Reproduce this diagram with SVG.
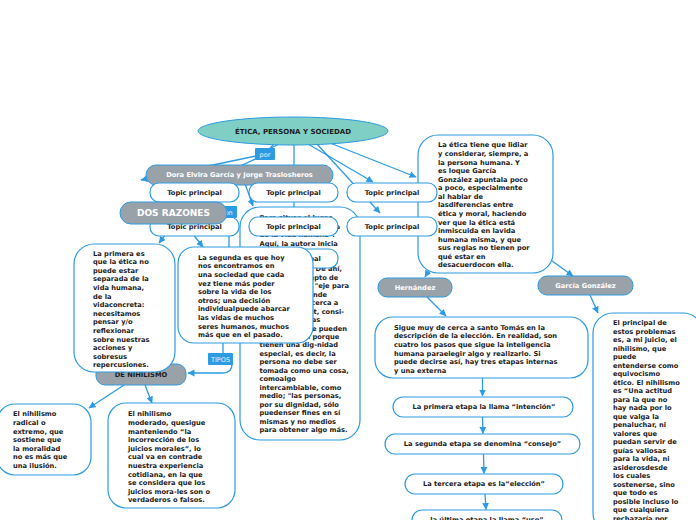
<svg xmlns="http://www.w3.org/2000/svg" width="696" height="520" viewBox="0 0 696 520">
<style>
.n{fill:#fff;stroke:#2d9be3;stroke-width:1.2}
.g{fill:#9aa2a9;stroke:#2d9be3;stroke-width:1}
.t{font-family:"DejaVu Sans",Verdana,sans-serif;font-weight:bold;font-size:6.7px;fill:#1c1c1c}
.c{text-anchor:middle}
.w{fill:#fff}
.lb{fill:#2d9be3}
.lt{font-family:"DejaVu Sans",Verdana,sans-serif;font-size:6.5px;fill:#e6f3ff;text-anchor:middle}
.k path{fill:none;stroke:#2d9be3;stroke-width:1.3}
.k .a{marker-end:url(#ar)}
</style>
<defs>
<marker id="ar" markerWidth="8" markerHeight="8" refX="6.5" refY="4" orient="auto" markerUnits="userSpaceOnUse"><path d="M0,0.6 L7,4 L0,7.4 Z" fill="#2d9be3"/></marker>
</defs>
<rect width="696" height="520" fill="#fff"/>
<g id="connectors" class="k">
<path d="M274,144 L264,155 L238,167"/>
<path class="a" d="M279,144 L256,156 L141,180"/>
<path d="M294,144 L294,212"/>
<path class="a" d="M308,144 L373,182"/>
<path class="a" d="M317,144 L380,213"/>
<path class="a" d="M330,143 L416,177"/>
<path class="a" d="M243,178 L253,206"/>
<path class="a" d="M166,234 L159,243"/>
<path class="a" d="M192,233 L203,247"/>
<path class="a" d="M229,216 L229,300 L223,310 L223,355 L232,362 Q233,373 222,373 L188,373"/>
<path class="a" d="M124,385 L89,408"/>
<path class="a" d="M145,385 L152,403"/>
<path class="a" d="M432,265 L425,277"/>
<path class="a" d="M548,258 L573,276"/>
<path class="a" d="M427,297 L446,316"/>
<path class="a" d="M590,295 L598,313"/>
<path class="a" d="M482.5,378 L482.5,396"/>
<path class="a" d="M482.5,417 L483,433.5"/>
<path class="a" d="M483.5,454 L484,473.5"/>
<path class="a" d="M485,494 L486,509.5"/>
</g>
<g id="central">
<ellipse cx="293" cy="131" rx="95" ry="14" fill="#80cfc5" stroke="#2d9be3" stroke-width="1"/>
<text class="t c" x="293" y="133.5" style="font-size:7px">ÉTICA, PERSONA Y SOCIEDAD</text>
</g>
<g id="label-por">
<rect class="lb" x="255" y="148" width="20" height="12" rx="1"/>
<text class="lt" x="265" y="156.5">por</text>
</g>
<g id="node-etica">
<rect class="n" x="418" y="135" width="135" height="138" rx="20"/>
<text class="t" x="438" y="147.4"><tspan x="438">La ética tiene que lidiar</tspan><tspan x="438" dy="8.57">y considerar, siempre, a</tspan><tspan x="438" dy="8.57">la persona humana. Y</tspan><tspan x="438" dy="8.57">es loque García</tspan><tspan x="438" dy="8.57">González apuntala poco</tspan><tspan x="438" dy="8.57">a poco, especialmente</tspan><tspan x="438" dy="8.57">al hablar de</tspan><tspan x="438" dy="8.57">lasdiferencias entre</tspan><tspan x="438" dy="8.57">ética y moral, haciendo</tspan><tspan x="438" dy="8.57">ver que la ética está</tspan><tspan x="438" dy="8.57">inmiscuida en lavida</tspan><tspan x="438" dy="8.57">humana misma, y que</tspan><tspan x="438" dy="8.57">sus reglas no tienen por</tspan><tspan x="438" dy="8.57">qué estar en</tspan><tspan x="438" dy="8.57">desacuerdocon ella.</tspan></text>
</g>
<g id="node-middle">
<rect class="n" x="240" y="207" width="120" height="233" rx="20"/>
<text class="t" x="259.5" y="220.3"><tspan x="259.5">Para situar el lugar</tspan><tspan x="259.5" dy="8.48">de la dimensión ética</tspan><tspan x="259.5" dy="8.48">de la vida humana".</tspan><tspan x="259.5" dy="8.48">Aquí, la autora inicia</tspan><tspan x="259.5" dy="8.48">su reflexión sobre</tspan><tspan x="259.5" dy="8.48">la persona humana</tspan><tspan x="259.5" dy="8.48">de la persona. De ahí,</tspan><tspan x="259.5" dy="8.48">surge el concepto de</tspan><tspan x="259.5" dy="8.48">persona como "eje para</tspan><tspan x="259.5" dy="8.48">la ética, de donde</tspan><tspan x="259.5" dy="8.48">la autora se acerca a</tspan><tspan x="259.5" dy="8.48">Immanuel Kant, consi-</tspan><tspan x="259.5" dy="8.48">derando que las</tspan><tspan x="259.5" dy="8.48">personas no se pueden</tspan><tspan x="259.5" dy="8.48">ser utilizadas porque</tspan><tspan x="259.5" dy="8.48">tienen una dig-nidad</tspan><tspan x="259.5" dy="8.48">especial, es decir, la</tspan><tspan x="259.5" dy="8.48">persona no debe ser</tspan><tspan x="259.5" dy="8.48">tomada como una cosa,</tspan><tspan x="259.5" dy="8.48">comoalgo</tspan><tspan x="259.5" dy="8.48">intercambiable, como</tspan><tspan x="259.5" dy="8.48">medio; "las personas,</tspan><tspan x="259.5" dy="8.48">por su dignidad, sólo</tspan><tspan x="259.5" dy="8.48">puedenser fines en sí</tspan><tspan x="259.5" dy="8.48">mismas y no medios</tspan><tspan x="259.5" dy="8.48">para obtener algo más.</tspan></text>
</g>
<g id="node-dora">
<rect class="g" x="146" y="165" width="187" height="20" rx="10"/>
<text class="t c w" x="239.5" y="177.4">Dora Elvira García y Jorge Traslosheros</text>
</g>
<g id="topic-1">
<rect class="n" x="150" y="183" width="89" height="19" rx="9"/>
<text class="t c" x="194.5" y="194.9">Topic principal</text>
</g>
<g id="topic-2">
<rect class="n" x="249" y="183" width="89" height="19" rx="9"/>
<text class="t c" x="293.5" y="194.9">Topic principal</text>
</g>
<g id="topic-3">
<rect class="n" x="347" y="183" width="90" height="19" rx="9"/>
<text class="t c" x="392" y="194.9">Topic principal</text>
</g>
<g id="topic-4">
<rect class="n" x="150" y="217" width="89" height="19" rx="9"/>
<text class="t c" x="194.5" y="228.9">Topic principal</text>
</g>
<g id="topic-5">
<rect class="n" x="249" y="217" width="89" height="19" rx="9"/>
<text class="t c" x="293.5" y="228.9">Topic principal</text>
</g>
<g id="topic-6">
<rect class="n" x="347" y="217" width="90" height="19" rx="9"/>
<text class="t c" x="392" y="228.9">Topic principal</text>
</g>
<g id="topic-7">
<rect class="n" x="249" y="249" width="89" height="19" rx="9"/>
<text class="t c" x="293.5" y="260.9">Topic principal</text>
</g>
<g id="label-son">
<rect class="lb" x="213" y="206" width="24" height="12" rx="1"/>
<text class="lt" x="227" y="214.5">son</text>
</g>
<g id="node-dos">
<rect class="g" x="120" y="202" width="107" height="22" rx="11"/>
<text class="t c w" x="173.5" y="216.2" style="font-size:9px">DOS RAZONES</text>
</g>
<g id="node-nihilismo">
<rect class="g" x="96" y="364" width="90" height="21" rx="9"/>
<text class="t c" x="141" y="376.9">DE NIHILISMO</text>
</g>
<g id="node-primera">
<rect class="n" x="74" y="244" width="101" height="128" rx="20"/>
<text class="t" x="93" y="255.6"><tspan x="93">La primera es</tspan><tspan x="93" dy="8.6">que la ética no</tspan><tspan x="93" dy="8.6">puede estar</tspan><tspan x="93" dy="8.6">separada de la</tspan><tspan x="93" dy="8.6">vida humana,</tspan><tspan x="93" dy="8.6">de la</tspan><tspan x="93" dy="8.6">vidaconcreta:</tspan><tspan x="93" dy="8.6">necesitamos</tspan><tspan x="93" dy="8.6">pensar y/o</tspan><tspan x="93" dy="8.6">reflexionar</tspan><tspan x="93" dy="8.6">sobre nuestras</tspan><tspan x="93" dy="8.6">acciones y</tspan><tspan x="93" dy="8.6">sobresus</tspan><tspan x="93" dy="8.6">repercusiones.</tspan></text>
</g>
<g id="node-segunda">
<rect class="n" x="178" y="247" width="135" height="96" rx="16"/>
<text class="t" x="198" y="259.7"><tspan x="198">La segunda es que hoy</tspan><tspan x="198" dy="8.6">nos encontramos en</tspan><tspan x="198" dy="8.6">una sociedad que cada</tspan><tspan x="198" dy="8.6">vez tiene más poder</tspan><tspan x="198" dy="8.6">sobre la vida de los</tspan><tspan x="198" dy="8.6">otros; una decisión</tspan><tspan x="198" dy="8.6">individualpuede abarcar</tspan><tspan x="198" dy="8.6">las vidas de muchos</tspan><tspan x="198" dy="8.6">seres humanos, muchos</tspan><tspan x="198" dy="8.6">más que en el pasado.</tspan></text>
</g>
<g id="label-tipos">
<rect class="lb" x="208" y="353" width="25" height="12" rx="1"/>
<text class="lt" x="220.5" y="361.5">TIPOS</text>
</g>
<g id="node-radical">
<rect class="n" x="-3" y="404" width="94" height="71" rx="18"/>
<text class="t" x="13" y="416.4"><tspan x="13">El nihilismo</tspan><tspan x="13" dy="8.6">radical o</tspan><tspan x="13" dy="8.6">extremo, que</tspan><tspan x="13" dy="8.6">sostiene que</tspan><tspan x="13" dy="8.6">la moralidad</tspan><tspan x="13" dy="8.6">no es más que</tspan><tspan x="13" dy="8.6">una ilusión.</tspan></text>
</g>
<g id="node-moderado">
<rect class="n" x="108" y="403" width="127" height="105" rx="18"/>
<text class="t" x="128" y="416.4"><tspan x="128">El nihilismo</tspan><tspan x="128" dy="8.6">moderado, quesigue</tspan><tspan x="128" dy="8.6">manteniendo “la</tspan><tspan x="128" dy="8.6">incorrección de los</tspan><tspan x="128" dy="8.6">juicios morales”, lo</tspan><tspan x="128" dy="8.6">cual va en contrade</tspan><tspan x="128" dy="8.6">nuestra experiencia</tspan><tspan x="128" dy="8.6">cotidiana, en la que</tspan><tspan x="128" dy="8.6">se considera que los</tspan><tspan x="128" dy="8.6">juicios mora-les son o</tspan><tspan x="128" dy="8.6">verdaderos o falsos.</tspan></text>
</g>
<g id="node-hernandez">
<rect class="g" x="378" y="278" width="74" height="19" rx="9"/>
<text class="t c w" x="415" y="289.9">Hernández</text>
</g>
<g id="node-garcia">
<rect class="g" x="538" y="276" width="95" height="19" rx="9"/>
<text class="t c w" x="585.5" y="287.9">García González</text>
</g>
<g id="node-sigue">
<rect class="n" x="375" y="317" width="213" height="61" rx="18"/>
<text class="t" x="394" y="329.7"><tspan x="394">Sigue muy de cerca a santo Tomás en la</tspan><tspan x="394" dy="8.6">descripción de la elección. En realidad, son</tspan><tspan x="394" dy="8.6">cuatro los pasos que sigue la inteligencia</tspan><tspan x="394" dy="8.6">humana paraelegir algo y realizarlo. Si</tspan><tspan x="394" dy="8.6">puede decirse así, hay tres etapas internas</tspan><tspan x="394" dy="8.6">y una externa</tspan></text>
</g>
<g id="step-1">
<rect class="n" x="393" y="397" width="180" height="20" rx="10"/>
<text class="t c" x="484" y="409.4">La primera etapa la llama “intención”</text>
</g>
<g id="step-2">
<rect class="n" x="385" y="434" width="195" height="20" rx="10"/>
<text class="t c" x="482.5" y="446.4">La segunda etapa se denomina “consejo”</text>
</g>
<g id="step-3">
<rect class="n" x="405" y="474" width="158" height="20" rx="10"/>
<text class="t c" x="484" y="486.4">La tercera etapa es la“elección”</text>
</g>
<g id="step-4">
<rect class="n" x="412" y="510" width="150" height="20" rx="10"/>
<text class="t c" x="487" y="522.4">la última etapa la llama “uso”</text>
</g>
<g id="node-principal">
<rect class="n" x="593" y="313" width="110" height="220" rx="20"/>
<text class="t" x="613" y="325.4"><tspan x="613">El principal de</tspan><tspan x="613" dy="8.5">estos problemas</tspan><tspan x="613" dy="8.5">es, a mi juicio, el</tspan><tspan x="613" dy="8.5">nihilismo, que</tspan><tspan x="613" dy="8.5">puede</tspan><tspan x="613" dy="8.5">entenderse como</tspan><tspan x="613" dy="8.5">equivocismo</tspan><tspan x="613" dy="8.5">ético. El nihilismo</tspan><tspan x="613" dy="8.5">es “Una actitud</tspan><tspan x="613" dy="8.5">para la que no</tspan><tspan x="613" dy="8.5">hay nada por lo</tspan><tspan x="613" dy="8.5">que valga la</tspan><tspan x="613" dy="8.5">penaluchar, ni</tspan><tspan x="613" dy="8.5">valores que</tspan><tspan x="613" dy="8.5">puedan servir de</tspan><tspan x="613" dy="8.5">guías valiosas</tspan><tspan x="613" dy="8.5">para la vida, ni</tspan><tspan x="613" dy="8.5">asiderosdesde</tspan><tspan x="613" dy="8.5">los cuales</tspan><tspan x="613" dy="8.5">sostenerse, sino</tspan><tspan x="613" dy="8.5">que todo es</tspan><tspan x="613" dy="8.5">posible incluso lo</tspan><tspan x="613" dy="8.5">que cualquiera</tspan><tspan x="613" dy="8.5">rechazaría por</tspan></text>
</g>
</svg>
